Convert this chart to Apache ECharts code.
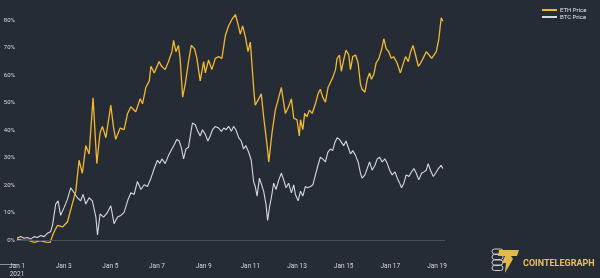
<!DOCTYPE html>
<html><head><meta charset="utf-8">
<script src="https://cdn.jsdelivr.net/npm/echarts@6/dist/echarts.min.js"></script>
<style>html,body{margin:0;padding:0;background:#262c36;}#c{width:600px;height:278px;}</style>
</head><body><div id="c"></div>
<script>
// Days since Jan 1 2021 00:00 and % change
const ethDay = [0,0.24,0.5,0.74,1.0,1.24,1.42,1.56,1.74,1.95,2.16,2.33,2.52,2.66,2.8,2.95,3.09,3.26,3.42,3.56,3.66,3.81,4.02,4.13,4.23,4.42,4.59,4.74,4.88,5.09,5.28,5.38,5.52,5.67,5.74,5.88,6.09,6.2,6.35,6.49,6.64,6.71,6.81,6.92,6.99,7.1,7.21,7.35,7.47,7.61,7.71,7.85,8.0,8.07,8.21,8.35,8.5,8.64,8.78,8.93,9.07,9.21,9.36,9.47,9.57,9.67,9.79,9.9,10.0,10.15,10.21,10.36,10.47,10.57,10.72,10.79,10.93,11.07,11.22,11.33,11.5,11.64,11.76,11.86,12.0,12.1,12.15,12.25,12.33,12.43,12.53,12.65,12.79,12.9,13.0,13.1,13.22,13.33,13.43,13.53,13.65,13.72,13.82,13.9,14.0,14.1,14.22,14.29,14.39,14.51,14.62,14.72,14.79,14.91,15.01,15.11,15.19,15.29,15.39,15.51,15.62,15.72,15.82,15.93,16.04,16.14,16.29,16.43,16.54,16.65,16.77,16.87,16.97,17.08,17.2,17.3,17.44,17.54,17.66,17.77,17.87,17.97,18.08,18.18,18.25];
const ethPct = [0.5,0,0,-0.7,-0.1,-0.6,-0.7,2.6,5.5,4.9,6.7,12.0,17.9,29.1,24.4,34.4,31.4,51.8,27.9,39.1,41.4,37.3,49.1,41.4,36.7,40.8,40.2,46.1,48.5,46.7,51.4,49.6,55.5,57.9,63.2,60.8,64.9,63.2,62.0,64.9,68.5,72.6,68.5,70.8,66.1,52.0,56.7,64.9,70.8,69.6,66.1,57.9,64.9,60.8,65.5,62.0,66.1,66.7,66.1,74.4,77.9,80.2,82.0,78.5,74.9,77.9,73.8,68.5,72.0,54.4,49.1,51.4,53.2,44.9,34.4,28.5,39.1,47.3,52.0,55.5,46.1,48.5,51.4,44.4,43.8,37.9,43.8,40.2,46.1,44.9,47.3,46.1,49.6,53.2,54.9,52.0,50.2,55.5,57.3,59.1,62.0,66.1,67.3,61.4,65.5,69.1,67.3,62.0,66.7,67.3,64.4,56.7,54.9,53.8,58.5,60.8,58.5,60.2,64.4,66.1,69.1,73.2,69.6,68.5,66.1,66.7,64.4,60.8,63.8,66.7,64.9,68.5,70.8,67.3,63.2,64.4,66.7,68.5,67.3,66.1,67.3,68.5,73.2,80.8,79.6];
const btcDay = [0,0.16,0.3,0.44,0.59,0.73,0.87,1.02,1.16,1.3,1.44,1.52,1.66,1.76,1.87,2.02,2.16,2.3,2.45,2.59,2.73,2.83,2.95,3.09,3.23,3.38,3.45,3.56,3.71,3.88,4.02,4.16,4.31,4.45,4.59,4.74,4.88,5.02,5.16,5.31,5.45,5.59,5.74,5.88,6.02,6.12,6.21,6.35,6.49,6.64,6.75,6.85,6.95,7.04,7.14,7.24,7.35,7.47,7.52,7.64,7.75,7.85,7.95,8.07,8.18,8.28,8.38,8.5,8.64,8.76,8.86,8.96,9.07,9.19,9.28,9.38,9.5,9.61,9.71,9.81,9.93,10.04,10.14,10.21,10.29,10.39,10.47,10.57,10.67,10.74,10.82,10.9,11.0,11.1,11.22,11.33,11.43,11.53,11.64,11.76,11.86,11.93,12.05,12.15,12.25,12.36,12.45,12.58,12.68,12.79,12.9,13.0,13.1,13.22,13.32,13.43,13.53,13.62,13.72,13.82,13.9,14.0,14.1,14.22,14.29,14.39,14.51,14.62,14.72,14.79,14.91,15.01,15.11,15.22,15.34,15.44,15.54,15.65,15.77,15.87,15.97,16.08,16.2,16.3,16.4,16.48,16.58,16.68,16.8,16.91,17.01,17.11,17.22,17.34,17.44,17.54,17.62,17.72,17.84,17.94,18.06,18.18,18.25];
const btcPct = [0.8,1.4,0.8,1.1,0.5,1.4,1.1,1.8,1.4,2.6,3.2,5.5,13.2,14.4,9.1,12.0,14.9,19.1,17.3,15.5,14.4,16.7,13.2,15.5,14.4,8.5,2.0,9.6,8.5,10.2,12.6,6.1,8.5,9.1,10.2,14.4,17.3,16.7,21.4,18.5,20.2,19.6,22.6,26.1,29.1,28.0,29.6,27.9,30.8,33.2,34.9,36.7,36.1,33.8,29.6,33.2,33.8,40.2,42.6,42.0,39.6,37.9,40.2,38.5,36.1,37.9,40.2,41.4,40.8,39.6,40.8,40.2,41.4,39.6,41.4,40.2,37.3,36.1,33.2,34.4,32.0,29.1,21.4,19.6,16.1,22.6,23.2,17.9,13.2,7.3,12.0,15.5,20.8,18.5,22.0,24.4,22.0,19.1,20.8,17.3,20.2,16.7,14.4,17.9,16.1,19.6,19.1,19.6,20.2,23.8,27.3,30.2,29.6,28.5,32.0,33.2,32.6,35.5,37.3,36.7,37.3,34.4,36.1,33.2,31.4,32.6,30.8,28.5,24.4,22.6,23.8,26.1,28.5,25.5,27.3,29.6,30.2,28.5,29.6,27.9,25.5,23.8,24.9,22.6,20.8,19.1,20.8,23.8,23.2,24.9,26.1,24.4,22.0,24.4,24.9,25.5,27.9,25.5,23.2,24.4,26.1,27.3,26.1];
const yTicks = [0,10,20,30,40,50,60,70,80];
const seriesNames = ['ETH Price','BTC Price'];

const zip = (a,b) => a.map((d,i) => [d,b[i]]);
const chart = echarts.init(document.getElementById('c'), null, {renderer:'canvas'});
const FONT = 'Roboto';
chart.setOption({
  backgroundColor:'#262c36',
  animation:false,
  textStyle:{fontFamily:FONT},
  grid:{left:17,right:156,top:9,bottom:14,containLabel:false},
  legend:{
    orient:'vertical', left:537, top:2, itemWidth:15, itemHeight:2, itemGap:1,
    icon:'rect',
    textStyle:{color:'#e6e6e6',fontSize:6,fontFamily:FONT,padding:[0,0,0,-2]},
    data:seriesNames
  },
  xAxis:{
    type:'value', min:0, max:18.3, interval:2,
    axisLine:{show:true,lineStyle:{color:'#8c929c',width:1}},
    axisTick:{show:false},
    splitLine:{show:false},
    axisLabel:{
      color:'#d8d8d8', fontSize:6.5, margin:5, lineHeight:8, showMaxLabel:false,
      formatter:v => (Math.abs(v-Math.round(v))>1e-6) ? '' : (Math.round(v)===0 ? 'Jan 1\n2021' : 'Jan ' + (Math.round(v)+1))
    }
  },
  yAxis:{
    type:'value', min:-6, max:84,
    axisLine:{show:false}, axisTick:{show:false}, splitLine:{show:false},
    axisLabel:{customValues:yTicks, color:'#d8d8d8', fontSize:6, margin:2, formatter:'{value}%'}
  },
  series:[
    {name:seriesNames[0], type:'line', data:zip(ethDay,ethPct), showSymbol:false, symbol:'none',
     lineStyle:{color:'#f2b830',width:1.3}, itemStyle:{color:'#f2b830'}, z:3,
     markLine:{silent:true, symbol:'none', label:{show:false}, lineStyle:{color:'#48505c',width:1,type:'solid'}, data:[{yAxis:0}], animation:false}
    },
    {name:seriesNames[1], type:'line', data:zip(btcDay,btcPct), showSymbol:false, symbol:'none',
     lineStyle:{color:'#d4d8e0',width:1.1}, itemStyle:{color:'#d4d8e0'}, z:2}
  ],
  graphic:[
    {type:'line', shape:{x1:0,y1:264.5,x2:17,y2:264.5}, style:{stroke:'#8c929c',lineWidth:1}},
    {type:'rect', shape:{x:492,y:249,width:11,height:5,r:2.5}, style:{fill:'none',stroke:'#c9ccd2',lineWidth:1}},
    {type:'rect', shape:{x:492,y:254.5,width:11,height:5,r:2.5}, style:{fill:'none',stroke:'#c9ccd2',lineWidth:1}},
    {type:'rect', shape:{x:492,y:260,width:11,height:5,r:2.5}, style:{fill:'none',stroke:'#c9ccd2',lineWidth:1}},
    {type:'rect', shape:{x:492,y:265.5,width:11,height:5,r:2.5}, style:{fill:'none',stroke:'#c9ccd2',lineWidth:1}},
    {type:'polygon', shape:{points:[[499,250],[519,250],[517,256],[511,256],[513,259],[505,273],[506,263],[502,263],[505,256],[498,256]]}, style:{fill:'#e0b84e'}},
    {type:'text', left:523, top:259, style:{text:'COINTELEGRAPH', fill:'#e3c166', font:'bold 9px '+FONT}}
  ]
});
</script></body></html>
